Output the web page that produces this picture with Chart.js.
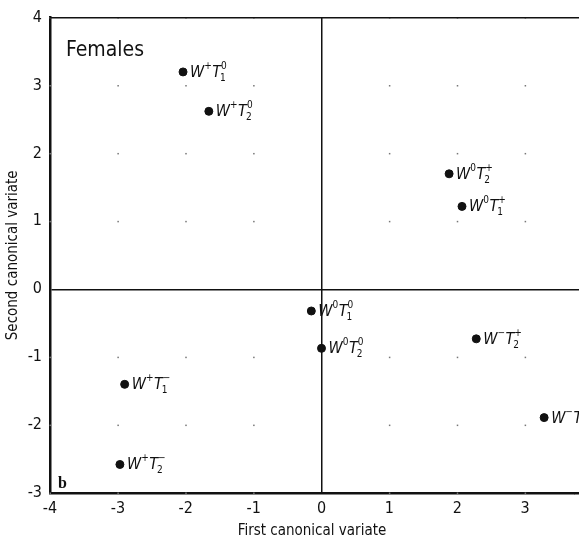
<!DOCTYPE html>
<html>
<head>
<meta charset="utf-8">
<script src="https://cdn.jsdelivr.net/npm/chart.js@4/dist/chart.umd.min.js"></script>
<style>
  html, body { margin: 0; padding: 0; background: #fff; }
  #wrap { width: 579px; height: 540px; position: relative; }
</style>
</head>
<body>
<div id="wrap"><canvas id="chart"></canvas></div>
<script>
// Canonical variate means
const firstVariate  = [-2.04, -1.66, 1.88, 2.07, -0.15, 0.0, 2.28, 3.28, -2.9, -2.97];
const secondVariate = [3.2, 2.62, 1.7, 1.22, -0.32, -0.87, -0.73, -1.89, -1.4, -2.58];
// label pieces: W superscript, T subscript, T superscript
const wSup = ['+', '+', '0', '0', '0', '0', '\u2212', '\u2212', '+', '+'];
const tSub = ['1', '2', '2', '1', '1', '2', '2', '1', '1', '2'];
const tSup = ['0', '0', '+', '+', '0', '0', '+', '+', '\u2212', '\u2212'];
const xTicks = [-4, -3, -2, -1, 0, 1, 2, 3];
const yTicks = [-3, -2, -1, 0, 1, 2, 3, 4];

const INK = '#111';
const FONT = '"Liberation Sans Narrow", "DejaVu Sans Condensed", "Liberation Sans", sans-serif';

const points = firstVariate.map((x, i) => ({ x: x, y: secondVariate[i] }));

// same rounding Chart.js uses for crisp lines
const align = (v, w) => Math.round(v - w / 2) + w / 2;

// dotted grid at tick intersections, frame lines to the edge, point labels, panel text
const decorations = {
    id: 'decorations',
    afterDatasetsDraw(chart) {
        const ctx = chart.ctx;
        const xs = chart.scales.x, ys = chart.scales.y;
        const area = chart.chartArea;
        ctx.save();

        // grid dots
        ctx.fillStyle = '#777';
        xTicks.forEach(tx => {
            yTicks.forEach(ty => {
                if (tx === 0 || ty === 0) return;
                const px = xs.getPixelForValue(tx), py = ys.getPixelForValue(ty);
                ctx.fillRect(px - 0.5, py - 0.5, 1.5, 1.5);
            });
        });

        // top frame line, and the zero / bottom lines run on to the page edge
        ctx.strokeStyle = INK;
        ctx.lineWidth = 1.5;
        ctx.beginPath();
        ctx.moveTo(area.left, align(area.top, 1.5));
        ctx.lineTo(chart.width, align(area.top, 1.5));
        const y0 = align(ys.getPixelForValue(0), 1.5);
        ctx.moveTo(area.right, y0);
        ctx.lineTo(chart.width, y0);
        ctx.stroke();
        ctx.lineWidth = 2.5;
        ctx.beginPath();
        ctx.moveTo(area.right, align(area.bottom, 2.5));
        ctx.lineTo(chart.width, align(area.bottom, 2.5));
        ctx.stroke();

        // point labels
        ctx.fillStyle = INK;
        ctx.textBaseline = 'alphabetic';
        points.forEach((p, i) => {
            let x = xs.getPixelForValue(p.x) + 7;
            const y = ys.getPixelForValue(p.y) + 5;
            ctx.font = 'italic 16px ' + FONT;
            ctx.fillText('W', x, y);
            x += ctx.measureText('W').width;
            ctx.font = '10px ' + FONT;
            ctx.fillText(wSup[i], x, y - 8);
            x += ctx.measureText(wSup[i]).width + 0.5;
            ctx.font = 'italic 16px ' + FONT;
            ctx.fillText('T', x, y);
            x += ctx.measureText('T').width - 1;
            ctx.font = '10px ' + FONT;
            ctx.fillText(tSub[i], x, y + 4);
            ctx.fillText(tSup[i], x + 1, y - 8);
        });

        // panel title and letter
        ctx.font = '21px ' + FONT;
        ctx.fillText('Females', area.left + 16, area.top + 38);
        ctx.font = 'bold 16px "Liberation Serif", serif';
        ctx.fillText('b', area.left + 8, area.bottom - 5);
        ctx.restore();
    }
};

new Chart(document.getElementById('chart'), {
    type: 'scatter',
    data: {
        datasets: [{
            data: points,
            backgroundColor: INK,
            borderColor: INK,
            pointRadius: 4,
            pointHoverRadius: 4
        }]
    },
    options: {
        responsive: true,
        maintainAspectRatio: false,
        animation: false,
        clip: false,
        layout: { padding: { top: 14, right: 0, left: 0, bottom: 0 } },
        plugins: { legend: { display: false }, tooltip: { enabled: false } },
        scales: {
            x: {
                type: 'linear',
                min: -4,
                max: 3.72,
                afterBuildTicks: s => { s.ticks = xTicks.map(v => ({ value: v })); },
                afterFit: s => { s.height = 47; },
                border: { display: true, color: INK, width: 2.5 },
                grid: {
                    drawTicks: false,
                    color: c => c.tick && c.tick.value === 0 ? INK : 'rgba(0,0,0,0)',
                    lineWidth: 1.5
                },
                ticks: {
                    color: INK,
                    padding: 6,
                    font: { family: FONT, size: 16 },
                    callback: v => v < 0 ? '-' + Math.abs(v) : String(v)
                },
                title: {
                    display: true,
                    text: 'First canonical variate',
                    color: INK,
                    font: { family: FONT, size: 15 },
                    padding: { top: 0, bottom: 0 }
                }
            },
            y: {
                type: 'linear',
                min: -3,
                max: 4,
                afterBuildTicks: s => { s.ticks = yTicks.map(v => ({ value: v })); },
                afterFit: s => { s.width = 50; },
                border: { display: true, color: INK, width: 2.5 },
                grid: {
                    drawTicks: false,
                    color: c => c.tick && c.tick.value === 0 ? INK : 'rgba(0,0,0,0)',
                    lineWidth: 1.5
                },
                ticks: {
                    color: INK,
                    padding: 8,
                    font: { family: FONT, size: 16 },
                    callback: v => v < 0 ? '-' + Math.abs(v) : String(v)
                },
                title: {
                    display: true,
                    text: 'Second canonical variate',
                    color: INK,
                    font: { family: FONT, size: 15 },
                    padding: { top: 4, bottom: 4 }
                }
            }
        }
    },
    plugins: [decorations]
});
</script>
</body>
</html>
